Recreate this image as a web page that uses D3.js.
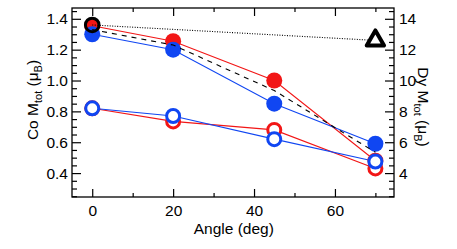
<!DOCTYPE html>
<html>
<head>
<meta charset="utf-8">
<script src="https://cdn.jsdelivr.net/npm/d3@7"></script>
<style>
  body { margin: 0; background: #fff; }
  text { font-family: Arial, "Liberation Sans", sans-serif; fill: #000; }
</style>
</head>
<body>
<div id="chart"></div>
<script>
// Data
var angles = [0, 20, 45, 70];
var coRedFilled = [1.355, 1.255, 1.0, 0.48];
var coBlueFilled = [1.30, 1.20, 0.85, 0.59];
var coRedOpen = [0.82, 0.735, 0.68, 0.43];
var coBlueOpen = [0.82, 0.77, 0.62, 0.475];
var coAverage = [1.33, 1.23, 0.935, 0.535];
var dyAngles = [0, 70];
var dyMoment = [13.6, 12.6];

// Tick labels
var xTicks = [0, 20, 40, 60];
var xMinor = [10, 30, 50, 70];
var coTicks = [0.4, 0.6, 0.8, 1.0, 1.2, 1.4];
var dyTicks = [4, 6, 8, 10, 12, 14];

var red = "#f21616", blue = "#1046f2";

var W = 457, H = 249;
// plot box
var box = {left: 72, right: 394, top: 8, bottom: 197};

var svg = d3.select("#chart").append("svg")
    .attr("width", W)
    .attr("height", H);

var x = d3.scaleLinear().domain([-5, 74.6]).range([box.left, box.right]);
var yCo = d3.scaleLinear().domain([0.245, 1.47]).range([box.bottom, box.top]);
var yDy = d3.scaleLinear().domain([2.45, 14.7]).range([box.bottom, box.top]);

// minor tick positions (every quarter of a major step)
var coMinor = d3.range(0.25, 1.47, 0.05).filter(function(v) {
    return coTicks.every(function(t) { return Math.abs(t - v) > 1e-6; });
});
var dyMinor = d3.range(2.5, 14.7, 0.5).filter(function(v) {
    return dyTicks.every(function(t) { return Math.abs(t - v) > 1e-6; });
});

function styleAxis(g) {
    g.select(".domain").remove();
    g.selectAll("line").attr("stroke", "#000").attr("stroke-width", 1.2);
    g.selectAll("text").style("font-size", "15.5px").attr("fill", "#000");
}

// bottom
svg.append("g").attr("transform", `translate(0,${box.bottom})`)
    .call(d3.axisBottom(x).tickValues(xTicks).tickSize(-8).tickSizeOuter(0).tickPadding(8))
    .call(styleAxis);
svg.append("g").attr("transform", `translate(0,${box.bottom})`)
    .call(d3.axisBottom(x).tickValues(xMinor).tickSize(-4).tickSizeOuter(0).tickFormat(""))
    .call(styleAxis);
// top (mirror)
svg.append("g").attr("transform", `translate(0,${box.top})`)
    .call(d3.axisTop(x).tickValues(xTicks).tickSize(-8).tickSizeOuter(0).tickFormat(""))
    .call(styleAxis);
svg.append("g").attr("transform", `translate(0,${box.top})`)
    .call(d3.axisTop(x).tickValues(xMinor).tickSize(-4).tickSizeOuter(0).tickFormat(""))
    .call(styleAxis);
// left
svg.append("g").attr("transform", `translate(${box.left},0)`)
    .call(d3.axisLeft(yCo).tickValues(coTicks).tickSize(-9).tickSizeOuter(0).tickPadding(4).tickFormat(d3.format(".1f")))
    .call(styleAxis);
svg.append("g").attr("transform", `translate(${box.left},0)`)
    .call(d3.axisLeft(yCo).tickValues(coMinor).tickSize(-5).tickSizeOuter(0).tickFormat(""))
    .call(styleAxis);
// right
svg.append("g").attr("transform", `translate(${box.right},0)`)
    .call(d3.axisRight(yDy).tickValues(dyTicks).tickSize(-9).tickSizeOuter(0).tickPadding(5))
    .call(styleAxis);
svg.append("g").attr("transform", `translate(${box.right},0)`)
    .call(d3.axisRight(yDy).tickValues(dyMinor).tickSize(-5).tickSizeOuter(0).tickFormat(""))
    .call(styleAxis);

// frame
svg.append("rect")
    .attr("x", box.left).attr("y", box.top)
    .attr("width", box.right - box.left).attr("height", box.bottom - box.top)
    .attr("fill", "none").attr("stroke", "#000").attr("stroke-width", 1.3);

// axis titles
svg.append("text")
    .attr("x", x(35)).attr("y", 234)
    .attr("text-anchor", "middle")
    .style("font-size", "15.5px")
    .text("Angle (deg)");

var yl = svg.append("text")
    .attr("transform", "translate(38,100) rotate(-90)")
    .attr("text-anchor", "middle")
    .style("font-size", "15.5px");
yl.append("tspan").text("Co M");
yl.append("tspan").attr("dy", 4).style("font-size", "11px").text("tot");
yl.append("tspan").attr("dy", -4).text(" (\u03bc");
yl.append("tspan").attr("dy", 4).style("font-size", "11px").text("B");
yl.append("tspan").attr("dy", -4).text(")");

var yr = svg.append("text")
    .attr("transform", "translate(418,107) rotate(90)")
    .attr("text-anchor", "middle")
    .style("font-size", "15.5px");
yr.append("tspan").text("Dy M");
yr.append("tspan").attr("dy", 4).style("font-size", "11px").text("tot");
yr.append("tspan").attr("dy", -4).text(" (\u03bc");
yr.append("tspan").attr("dy", 4).style("font-size", "11px").text("B");
yr.append("tspan").attr("dy", -4).text(")");

// series
var series = [
    {vals: coRedFilled, color: red, filled: true},
    {vals: coRedOpen, color: red, filled: false},
    {vals: coBlueFilled, color: blue, filled: true},
    {vals: coBlueOpen, color: blue, filled: false}
];

var line = d3.line()
    .x(function(d) { return x(d[0]); })
    .y(function(d) { return yCo(d[1]); });

series.forEach(function(s) {
    svg.append("path")
        .datum(angles.map(function(a, i) { return [a, s.vals[i]]; }))
        .attr("d", line)
        .attr("fill", "none")
        .attr("stroke", s.color)
        .attr("stroke-width", 1.1);
});

// markers: red first, then blue on top
series.forEach(function(s) {
    svg.append("g").selectAll("circle")
        .data(angles.map(function(a, i) { return [a, s.vals[i]]; }))
        .enter().append("circle")
        .attr("cx", function(d) { return x(d[0]); })
        .attr("cy", function(d) { return yCo(d[1]); })
        .attr("r", s.filled ? 8 : 6.5)
        .attr("fill", s.filled ? s.color : "#fff")
        .attr("stroke", s.color)
        .attr("stroke-width", s.filled ? 0 : 3);
});

// average (dashed)
svg.append("path")
    .datum(angles.map(function(a, i) { return [a, coAverage[i]]; }))
    .attr("d", line)
    .attr("fill", "none")
    .attr("stroke", "#000")
    .attr("stroke-width", 1.1)
    .attr("stroke-dasharray", "5,5");

// Dy (dotted) on right axis
var dyLine = d3.line()
    .x(function(d) { return x(d[0]); })
    .y(function(d) { return yDy(d[1]); });
svg.append("path")
    .datum(dyAngles.map(function(a, i) { return [a, dyMoment[i]]; }))
    .attr("d", dyLine)
    .attr("fill", "none")
    .attr("stroke", "#000")
    .attr("stroke-width", 1.1)
    .attr("stroke-dasharray", "1,1.5");

svg.append("circle")
    .attr("cx", x(dyAngles[0]))
    .attr("cy", yDy(dyMoment[0]))
    .attr("r", 6.8)
    .attr("fill", "none")
    .attr("stroke", "#000")
    .attr("stroke-width", 3);

svg.append("path")
    .attr("d", d3.symbol().type(d3.symbolTriangle).size(130)())
    .attr("transform", `translate(${x(dyAngles[1])},${yDy(dyMoment[1])})`)
    .attr("fill", "#fff")
    .attr("stroke", "#000")
    .attr("stroke-width", 4)
    .attr("stroke-linejoin", "round");
</script>
</body>
</html>
